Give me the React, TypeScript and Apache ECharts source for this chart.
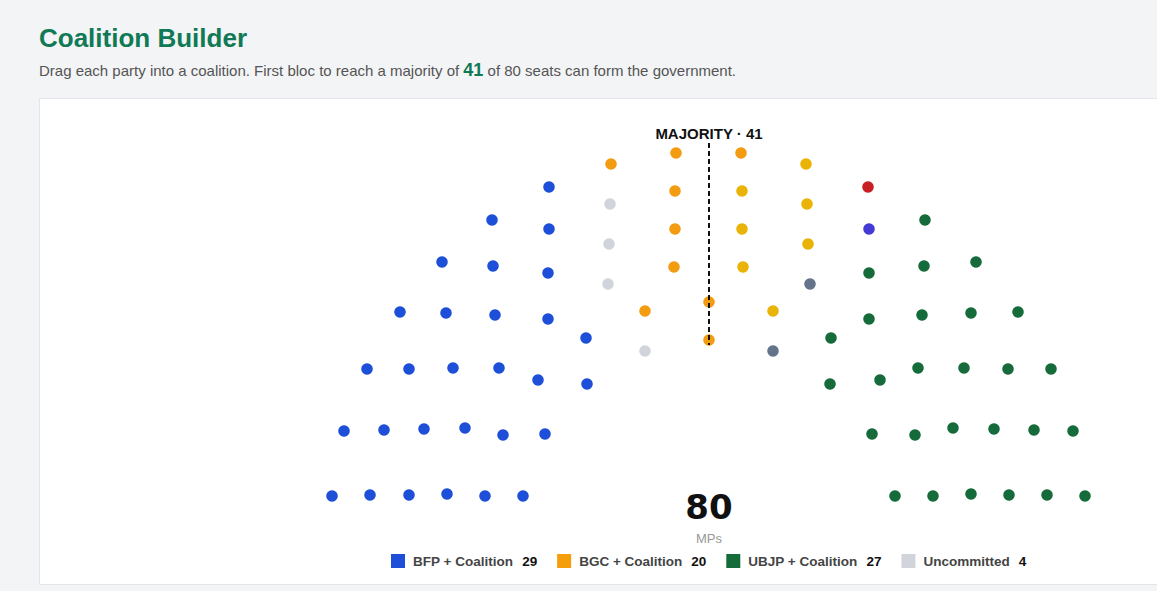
import React, { useEffect, useRef } from "react";
import * as echarts from "echarts";

// Seat positions of the hemicycle, [x, y] in seat-map units (page pixels)
const bfpSeats: number[][] = [
  [549, 187], [492, 220], [549, 229], [442, 262], [493, 266], [548, 273],
  [400, 312], [446, 313], [495, 315], [548, 319], [586, 338],
  [367, 369], [409, 369], [453, 368], [499, 368], [538, 380], [587, 384],
  [344, 431], [384, 430], [424, 429], [465, 428], [503, 435], [545, 434],
  [332, 496], [370, 495], [409, 495], [447, 494], [485, 496], [523, 496],
];
const ubjpSeats: number[][] = [
  [925, 220], [924, 266], [976, 262], [869, 273], [869, 319], [922, 315],
  [971, 313], [1018, 312], [831, 338], [830, 384], [880, 380], [918, 368],
  [964, 368], [1008, 369], [1051, 369], [872, 434], [915, 435], [953, 428],
  [994, 429], [1034, 430], [1073, 431], [895, 496], [933, 496], [971, 494],
  [1009, 495], [1047, 495], [1085, 496],
];
const bgcOrangeSeats: number[][] = [
  [611, 164], [676, 153], [741, 153], [675, 191], [675, 229], [674, 267],
  [709, 302], [645, 311], [709, 340],
];
const bgcYellowSeats: number[][] = [
  [806, 164], [742, 191], [807, 204], [742, 229], [808, 244], [743, 267], [773, 311],
];
const bgcSlateSeats: number[][] = [[810, 284], [773, 351]];
const bgcRedSeats: number[][] = [[868, 187]];
const bgcPurpleSeats: number[][] = [[869, 229]];
const uncommittedSeats: number[][] = [[610, 204], [609, 244], [608, 284], [645, 351]];

const blocNames = ["BFP + Coalition", "BGC + Coalition", "UBJP + Coalition", "Uncommitted"];
const blocCounts = [29, 20, 27, 4];
const totalSeats = 80;
const majority = 41;

const FONT = "'Liberation Sans', Arial, Helvetica, sans-serif";
const GREEN_TITLE = "#0f7a55";

export default function App() {
  const ref = useRef<HTMLDivElement>(null);
  useEffect(() => {
    if (!ref.current) return;
    const chart = echarts.init(ref.current, undefined, { renderer: "svg" });
    const pts = (arr: number[][], color?: string) =>
      arr.map((p) => (color ? { value: p, itemStyle: { color, opacity: 1 } } : { value: p }));
    const bgcData = [
      ...pts(bgcOrangeSeats, "#f39c12"),
      ...pts(bgcYellowSeats, "#eab308"),
      ...pts(bgcSlateSeats, "#64748b"),
      ...pts(bgcRedSeats, "#c81f25"),
      ...pts(bgcPurpleSeats, "#443bd4"),
    ];
    const blocColors = ["#1d4fd8", "#f59e0b", "#166b3a", "#d1d5db"];
    const blocData = [pts(bfpSeats), bgcData, pts(ubjpSeats), pts(uncommittedSeats)];
    const countMap: Record<string, number> = {};
    blocNames.forEach((n, i) => (countMap[n] = blocCounts[i]));

    chart.setOption({
      animation: false,
      backgroundColor: "#f3f4f6",
      grid: { left: 0, right: 0, top: 0, bottom: 0 },
      xAxis: { type: "value", min: 0, max: 1157, show: false },
      yAxis: { type: "value", min: 0, max: 591, inverse: true, show: false },
      legend: {
        left: 391,
        top: 554,
        padding: 0,
        itemWidth: 14,
        itemHeight: 14,
        itemGap: 20,
        icon: "rect",
        selectedMode: false,
        data: blocNames,
        formatter: (name: string) => `{a|${name}}{b|${countMap[name]}}`,
        textStyle: {
          rich: {
            a: { fontFamily: FONT, fontSize: 13.5, fontWeight: "bold", color: "#444", padding: [0, 0, 0, 3] },
            b: { fontFamily: FONT, fontSize: 13.5, fontWeight: "bold", color: "#111", padding: [0, 0, 0, 9] },
          },
        },
      },
      graphic: [
        {
          type: "rect",
          z: 0,
          shape: { x: 39.5, y: 98.5, width: 1130, height: 486 },
          style: { fill: "#ffffff", stroke: "#e2e4e7", lineWidth: 1 },
        },
        {
          type: "text",
          z: 1,
          x: 39,
          y: 38,
          style: {
            text: "Coalition Builder",
            font: `bold 26px ${FONT}`,
            fill: GREEN_TITLE,
            textVerticalAlign: "middle",
          },
        },
        {
          type: "text",
          z: 1,
          x: 39,
          y: 70,
          style: {
            text: `{t|Drag each party into a coalition. First bloc to reach a majority of }{n|${majority}}{t| of ${totalSeats} seats can form the government.}`,
            textVerticalAlign: "middle",
            rich: {
              t: { fontFamily: FONT, fontSize: 15, fill: "#555" },
              n: { fontFamily: FONT, fontSize: 18, fontWeight: "bold", fill: GREEN_TITLE },
            },
          },
        },
        {
          type: "text",
          z: 5,
          x: 709,
          y: 133,
          style: {
            text: `MAJORITY · ${majority}`,
            font: `bold 15px ${FONT}`,
            fill: "#111",
            textAlign: "center",
            textVerticalAlign: "middle",
          },
        },
        {
          type: "line",
          z: 5,
          shape: { x1: 709, y1: 143, x2: 709, y2: 345 },
          style: { stroke: "#111", lineWidth: 2, lineDash: [5, 3] },
        },
        {
          type: "text",
          z: 5,
          x: 709,
          y: 507,
          style: {
            text: String(totalSeats),
            font: `bold 34px 'DejaVu Sans', ${FONT}`,
            fill: "#111",
            textAlign: "center",
            textVerticalAlign: "middle",
          },
        },
        {
          type: "text",
          z: 5,
          x: 709,
          y: 538,
          style: {
            text: "MPs",
            font: `13px ${FONT}`,
            fill: "#999",
            textAlign: "center",
            textVerticalAlign: "middle",
          },
        },
      ],
      series: blocNames.map((name, i) => ({
        name,
        type: "scatter",
        z: 3,
        symbol: "circle",
        symbolSize: 11.5,
        itemStyle: { color: blocColors[i], opacity: 1 },
        data: blocData[i],
        silent: true,
      })),
    });
    return () => chart.dispose();
  }, []);
  return (
    <div
      ref={ref}
      style={{ position: "fixed", left: 0, top: 0, width: 1157, height: 591 }}
    />
  );
}
